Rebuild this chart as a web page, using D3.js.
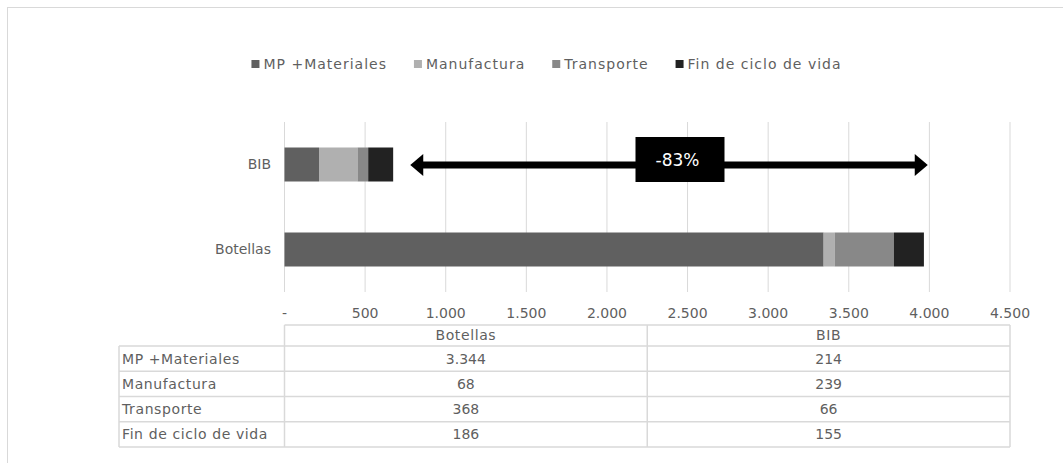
<!DOCTYPE html>
<html>
<head>
<meta charset="utf-8">
<script src="https://cdn.jsdelivr.net/npm/d3@7"></script>
<style>
  body { margin: 0; background: #fff; }
  text { font-family: "DejaVu Sans", sans-serif; fill: #5f5f5f; }
</style>
</head>
<body>
<div id="chart"></div>
<script>
// data
const categories = ['BIB', 'Botellas']           // top to bottom on the chart
const tableColumns = ['Botellas', 'BIB']         // order in the data table
const seriesNames = ['MP +Materiales', 'Manufactura', 'Transporte', 'Fin de ciclo de vida']
const seriesColors = ['#606060', '#b0b0b0', '#888888', '#222222']
const botellas = [3344, 68, 368, 186]
const bib = [214, 239, 66, 155]
const xTicks = [0, 500, 1000, 1500, 2000, 2500, 3000, 3500, 4000, 4500]
const arrowFrom = 780, arrowTo = 3990
const arrowLabel = '-83%'
const arrowLabelAt = 2450

const values = { 'Botellas': botellas, 'BIB': bib }

const W = 1063, H = 463
const svg = d3.select('#chart').append('svg')
  .attr('width', W).attr('height', H)

// outer chart border (only top and left visible)
svg.append('rect')
  .attr('x', 7.5).attr('y', 7.5)
  .attr('width', W + 20).attr('height', H + 20)
  .attr('fill', 'none').attr('stroke', '#d9d9d9')

// es-ES style numbers: 3.344, zero shown as '-'
const es = d3.formatLocale({ decimal: ',', thousands: '.', grouping: [3], currency: ['', '€'] })
const fmt = v => v === 0 ? '-' : es.format(',')(v)

const x = d3.scaleLinear().domain([0, 4500]).range([284.5, 1010])
const y = d3.scaleBand().domain(categories).range([122, 292]).paddingInner(0.6).paddingOuter(0.3)

// gridlines
svg.append('g').selectAll('line')
  .data(xTicks)
  .join('line')
  .attr('x1', d => x(d)).attr('x2', d => x(d))
  .attr('y1', 122).attr('y2', 292)
  .attr('stroke', '#d9d9d9').attr('stroke-width', 1)

// stacked bars
const stacked = categories.map(c => {
  let acc = 0
  return values[c].map((v, i) => {
    const seg = { cat: c, i: i, x0: acc, x1: acc + v }
    acc += v
    return seg
  })
}).flat()

svg.append('g').selectAll('rect')
  .data(stacked)
  .join('rect')
  .attr('x', d => x(d.x0))
  .attr('width', d => x(d.x1) - x(d.x0))
  .attr('y', d => y(d.cat))
  .attr('height', y.bandwidth())
  .attr('fill', d => seriesColors[d.i])

// category labels
svg.append('g').selectAll('text')
  .data(categories)
  .join('text')
  .attr('x', 271)
  .attr('y', d => y(d) + y.bandwidth() / 2)
  .attr('dy', '0.35em')
  .attr('text-anchor', 'end')
  .attr('font-size', 14)
  .text(d => d)

// x tick labels
svg.append('g').selectAll('text')
  .data(xTicks)
  .join('text')
  .attr('x', d => x(d))
  .attr('y', 313)
  .attr('dy', '0.35em')
  .attr('text-anchor', 'middle')
  .attr('font-size', 14)
  .text(d => fmt(d))

// arrow annotation
const ay = 165
const ah = 13, aw = 11
const arrow = svg.append('g')
arrow.append('line')
  .attr('x1', x(arrowFrom) + ah - 1).attr('x2', x(arrowTo) - ah + 1)
  .attr('y1', ay).attr('y2', ay)
  .attr('stroke', '#000').attr('stroke-width', 7)
arrow.append('path')
  .attr('d', `M${x(arrowFrom)},${ay} L${x(arrowFrom) + ah},${ay - aw} L${x(arrowFrom) + ah},${ay + aw} Z`)
  .attr('fill', '#000')
arrow.append('path')
  .attr('d', `M${x(arrowTo)},${ay} L${x(arrowTo) - ah},${ay - aw} L${x(arrowTo) - ah},${ay + aw} Z`)
  .attr('fill', '#000')
arrow.append('rect')
  .attr('x', x(arrowLabelAt) - 44).attr('y', 137)
  .attr('width', 89).attr('height', 45)
  .attr('fill', '#000')
arrow.append('text')
  .attr('x', x(arrowLabelAt) - 2).attr('y', 160)
  .attr('dy', '0.35em')
  .attr('text-anchor', 'middle')
  .attr('font-size', 17)
  .style('fill', '#fff')
  .text(arrowLabel)

// legend
const legend = svg.append('g')
let lx = 0
const items = legend.selectAll('g')
  .data(seriesNames)
  .join('g')
items.append('rect')
  .attr('y', 60).attr('width', 8).attr('height', 8)
  .attr('fill', (d, i) => seriesColors[i])
items.append('text')
  .attr('x', 12).attr('y', 64).attr('dy', '0.35em')
  .attr('font-size', 14)
  .style('letter-spacing', '1px')
  .text(d => d)
items.each(function() {
  const w = d3.select(this).select('text').node().getComputedTextLength()
  d3.select(this).attr('transform', `translate(${lx},0)`)
  lx += 12 + w + 27
})
legend.attr('transform', `translate(${546.5 - (lx - 27) / 2},0)`)

// data table
const tbl = svg.append('g')
const headTop = 325, rowTop = 346
const rowH = (447 - rowTop) / seriesNames.length
const colX = [119, x(0), (x(0) + x(4500)) / 2, x(4500)]
const line = (x1, y1, x2, y2) => tbl.append('line')
  .attr('x1', x1).attr('y1', y1).attr('x2', x2).attr('y2', y2)
  .attr('stroke', '#d9d9d9').attr('stroke-width', 1.5)

line(colX[1], headTop, colX[3], headTop)
for (let r = 0; r <= seriesNames.length; r++) line(colX[0], rowTop + r * rowH, colX[3], rowTop + r * rowH)
line(colX[0], rowTop, colX[0], 447)
line(colX[1], headTop, colX[1], 447)
line(colX[2], headTop, colX[2], 447)
line(colX[3], headTop, colX[3], 447)

tableColumns.forEach((c, j) => {
  const cx = (colX[j + 1] + colX[j + 2]) / 2
  tbl.append('text')
    .attr('x', cx).attr('y', (headTop + rowTop) / 2)
    .attr('dy', '0.35em').attr('text-anchor', 'middle')
    .attr('font-size', 14).style('letter-spacing', '0.6px')
    .text(c)
  values[c].forEach((v, i) => {
    tbl.append('text')
      .attr('x', cx).attr('y', rowTop + (i + 0.5) * rowH)
      .attr('dy', '0.35em').attr('text-anchor', 'middle')
      .attr('font-size', 14)
      .text(fmt(v))
  })
})
seriesNames.forEach((s, i) => {
  tbl.append('text')
    .attr('x', 122).attr('y', rowTop + (i + 0.5) * rowH)
    .attr('dy', '0.35em')
    .attr('font-size', 14).style('letter-spacing', '0.6px')
    .text(s)
})
</script>
</body>
</html>
